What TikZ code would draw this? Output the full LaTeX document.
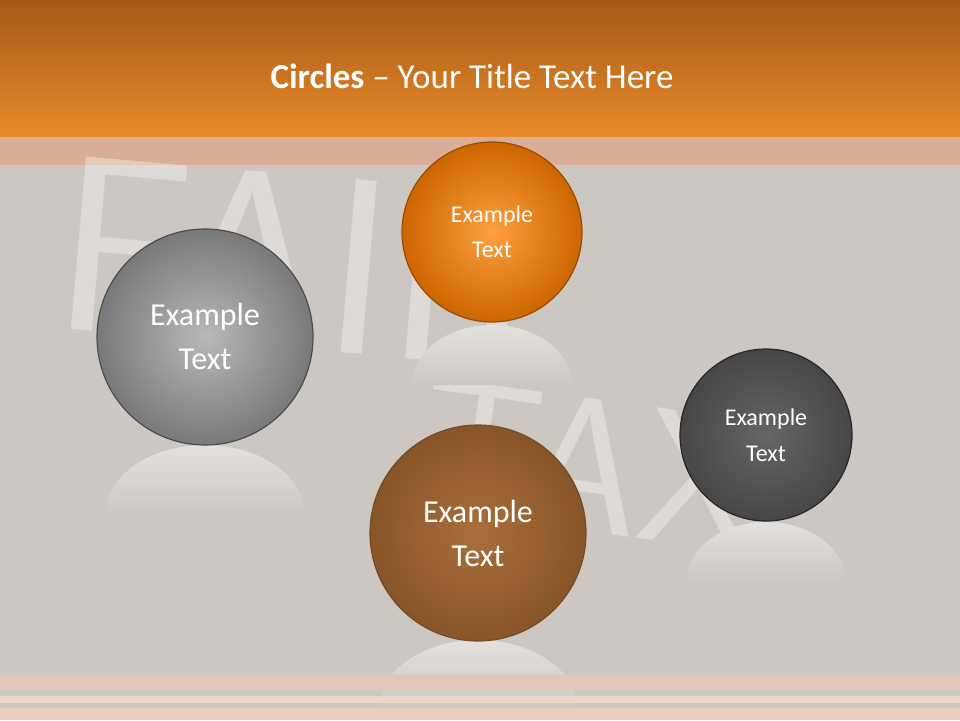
\documentclass[tikz,border=0pt]{standalone}
\usepackage{fontspec}
\setmainfont{Carlito}
\usetikzlibrary{shadings}
\definecolor{bg}{HTML}{CDC7C2}
\definecolor{otop}{HTML}{A45A18}
\definecolor{obot}{HTML}{E98A28}
\definecolor{band}{HTML}{DAAE96}
\tikzset{
  ball/.style={circle,draw=#1!60!black,line width=1.2pt,text=white,align=center,inner sep=0pt},
  chalk/.style={text=white,opacity=0.35,font=\sffamily},
  refl/.style={top color=bg!55!white,bottom color=bg}
}
\begin{document}
\begin{tikzpicture}[x=1pt,y=-1pt]
\useasboundingbox (0,0) rectangle (960,720);
\fill[bg] (0,0) rectangle (960,720);
\shade[top color=otop,bottom color=obot] (0,0) rectangle (960,137);
\fill[band] (0,137) rectangle (960,165);
% chalk letters
\node[chalk,font=\sffamily\fontsize{250}{250}\selectfont,rotate=-5] (fair) at (300,262) {FAIR};
\node[chalk,font=\sffamily\fontsize{190}{190}\selectfont,rotate=-8] (tax) at (590,465) {TAX};
\node[text=white,font=\fontsize{35}{42}\selectfont] (title) at (472,76) {\textbf{Circles} – Your Title Text Here};
% reflections
\shade[refl] (105,515) arc (180:360:100 and 70) -- cycle;
\shade[refl] (412,385) arc (180:360:80 and 60) -- cycle;
\shade[refl] (378,710) arc (180:360:100 and 70) -- cycle;
\shade[refl] (686,582) arc (180:360:80 and 60) -- cycle;
\fill[band!70!white] (0,675) rectangle (960,690);
\fill[band!50!white] (0,696) rectangle (960,703);
\fill[band!60!white] (0,708) rectangle (960,720);
% balls
\shade[inner color=gray!55,outer color=gray!95!black] (205,337) circle (108);
\node[ball=gray,minimum size=216pt,font=\fontsize{32}{44}\selectfont] (c1) at (205,337) {Example\\Text};
\shade[inner color=orange!75!white,outer color=orange!80!black] (492,232) circle (90);
\node[ball=orange,minimum size=180pt,font=\fontsize{24}{35}\selectfont] (c2) at (492,232) {Example\\Text};
\shade[inner color={rgb,255:red,170;green,110;blue,60},outer color={rgb,255:red,135;green,85;blue,40}] (478,533) circle (108);
\node[ball=brown,minimum size=216pt,font=\fontsize{32}{44}\selectfont] (c3) at (478,533) {Example\\Text};
\shade[inner color=gray!80!black,outer color=gray!55!black] (766,435) circle (86);
\node[ball=darkgray,minimum size=172pt,font=\fontsize{24}{36}\selectfont] (c4) at (766,435) {Example\\Text};
\end{tikzpicture}
\end{document}
